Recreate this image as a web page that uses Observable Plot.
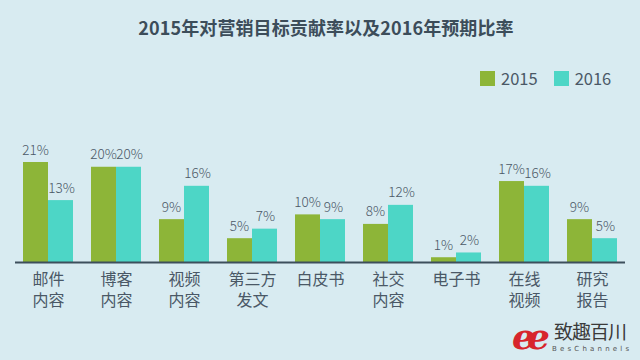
<!DOCTYPE html>
<html>
<head>
<meta charset="utf-8">
<script src="https://cdn.jsdelivr.net/npm/d3@7"></script>
<script src="https://cdn.jsdelivr.net/npm/@observablehq/plot@0.6"></script>
<style>
  html, body { margin: 0; padding: 0; background: #d8ebf1; }
  #wrap { position: relative; width: 640px; height: 360px; overflow: hidden; background: #d8ebf1;
          font-family: "Noto Sans CJK SC", "Noto Sans", sans-serif; }
  #title { height: 50px; line-height: 54px; text-align: center; font-size: 18px; font-weight: bold;
           color: #3c4d5a; letter-spacing: 0.1px; padding-left: 12px; }
  #legend { position: absolute; top: 66px; left: 480px; display: flex; align-items: center;
            font-size: 16.5px; color: #4a5866; }
  #legend .sw { width: 15px; height: 15px; display: inline-block; margin-right: 6px; }
  #legend .item { display: flex; align-items: center; margin-right: 16px; }
  #mark { position: absolute; left: 512px; top: 316px; width: 128px; height: 44px; }
  #mark span { line-height: 1; }
  #mark .ee { position: absolute; left: 0; top: 2px; font: italic bold 36px/1 "DejaVu Serif", serif; color: #d7252c; letter-spacing: -8px; }
  #mark .cn { position: absolute; left: 42px; top: 5px; font-size: 19px; color: #3a3a3a; letter-spacing: -1px; }
  #mark .en { position: absolute; left: 40px; top: 30px; font-size: 7px; color: #555; letter-spacing: 3.2px; font-family: "DejaVu Sans", sans-serif; }
</style>
</head>
<body>
<div id="wrap">
  <div id="title"></div>
  <div id="chart"></div>
  <div id="legend"></div>
  <div id="mark"><span class="ee">ee</span><span class="cn">致趣百川</span><span class="en">BesChannels</span></div>
</div>
<script>
const title = "2015年对营销目标贡献率以及2016年预期比率";
const categories = ["邮件\n内容", "博客\n内容", "视频\n内容", "第三方\n发文", "白皮书", "社交\n内容", "电子书", "在线\n视频", "研究\n报告"];
const years = ["2015", "2016"];
const values2015 = [21, 20, 9, 5, 10, 8, 1, 17, 9];
const values2016 = [13, 20, 16, 7, 9, 12, 2, 16, 5];
const colors = ["#8db538", "#4dd6c6"];

document.getElementById("title").textContent = title;
const legend = document.getElementById("legend");
years.forEach((y, i) => {
  const it = document.createElement("div");
  it.className = "item";
  it.innerHTML = `<span class="sw" style="background:${colors[i]}"></span><span>${y}</span>`;
  legend.appendChild(it);
});

const d15 = categories.map((c, i) => ({cat: c, v: values2015[i]}));
const d16 = categories.map((c, i) => ({cat: c, v: values2016[i]}));
const line1 = categories.map(c => ({cat: c, t: c.split("\n")[0]}));
const line2 = categories.filter(c => c.includes("\n")).map(c => ({cat: c, t: c.split("\n")[1]}));

const font = "Noto Sans CJK SC, Noto Sans, sans-serif";
const chart = Plot.plot({
  width: 640,
  height: 310,
  marginLeft: 15,
  marginRight: 15,
  marginTop: 112,
  marginBottom: 98,
  style: {background: "transparent", fontFamily: font},
  x: {domain: categories, paddingInner: 0.2674, paddingOuter: 0.103, axis: null},
  y: {domain: [0, 21], axis: null},
  marks: [
    Plot.barY(d15, {x: "cat", y: "v", fill: colors[0], insetRight: 25}),
    Plot.barY(d16, {x: "cat", y: "v", fill: colors[1], insetLeft: 25}),
    Plot.ruleY([0], {stroke: "#3d4f5c", strokeWidth: 2}),
    Plot.text(d15, {x: "cat", y: "v", text: d => d.v + "%", dx: -13, dy: -8, lineAnchor: "bottom",
      fill: "#4a5866", fontSize: 13.5, fontWeight: 300, letterSpacing: -0.6}),
    Plot.text(d16, {x: "cat", y: "v", text: d => d.v + "%", dx: 13, dy: -8, lineAnchor: "bottom",
      fill: "#4a5866", fontSize: 13.5, fontWeight: 300, letterSpacing: -0.6}),
    Plot.text(line1, {x: "cat", text: "t", frameAnchor: "bottom", lineAnchor: "top", dy: 11,
      fill: "#4a5866", fontSize: 16}),
    Plot.text(line2, {x: "cat", text: "t", frameAnchor: "bottom", lineAnchor: "top", dy: 32,
      fill: "#4a5866", fontSize: 16})
  ]
});
document.getElementById("chart").appendChild(chart);
</script>
</body>
</html>
